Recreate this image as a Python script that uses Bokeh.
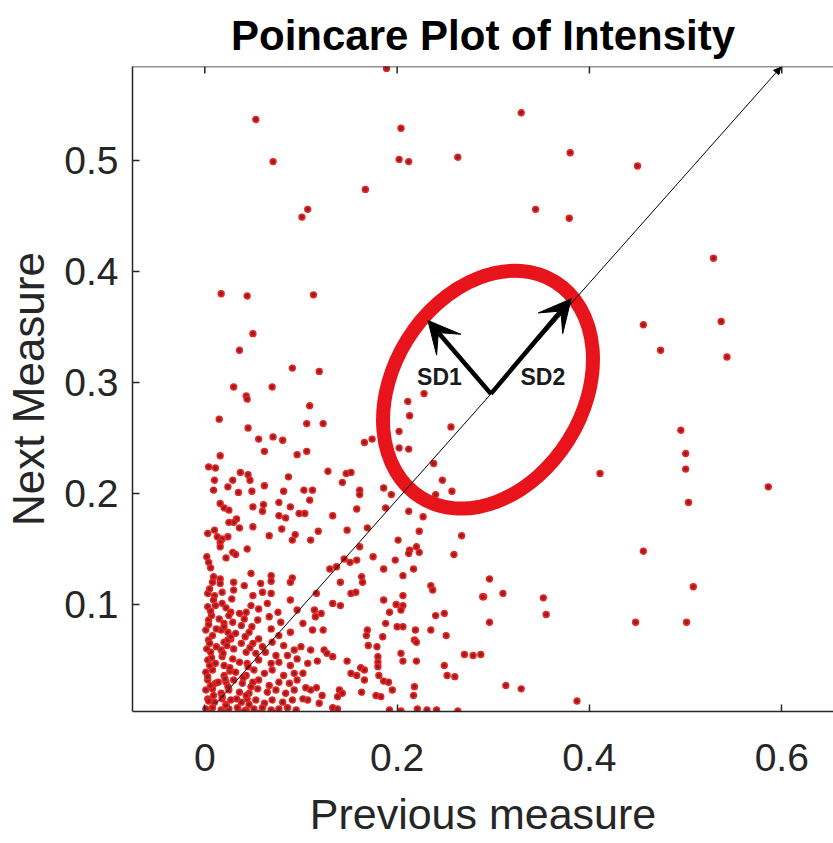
import math
from bokeh.plotting import figure
from bokeh.models import Range1d, FixedTicker, Arrow, VeeHead, NormalHead, Label, Span
from bokeh.embed import file_html
from bokeh.resources import INLINE

# ---------------- data ----------------
# sparse upper points
upper_x = [0.053, 0.071, 0.107, 0.101, 0.189, 0.204, 0.202, 0.212, 0.263, 0.329, 0.380, 0.344, 0.379, 0.167,
           0.450, 0.529, 0.456, 0.537, 0.474, 0.543, 0.495, 0.500]
upper_y = [0.537, 0.499, 0.456, 0.449, 0.583, 0.529, 0.501, 0.499, 0.503, 0.543, 0.507, 0.456, 0.448, 0.474,
           0.495, 0.412, 0.352, 0.355, 0.329, 0.323, 0.257, 0.236]
# sparse right-hand points
right_x = [0.411, 0.500, 0.503, 0.586, 0.456, 0.296, 0.290, 0.310, 0.352, 0.355, 0.296, 0.508, 0.448, 0.501,
           0.313, 0.329, 0.387]
right_y = [0.218, 0.222, 0.192, 0.206, 0.148, 0.123, 0.107, 0.110, 0.106, 0.091, 0.084, 0.116, 0.084, 0.084,
           0.027, 0.024, 0.013]
# middle-left points
mid_x = [0.017, 0.044, 0.113, 0.050, 0.036, 0.091, 0.119, 0.030, 0.070, 0.043, 0.044, 0.109, 0.015, 0.045,
         0.106, 0.123, 0.056, 0.071, 0.081, 0.106,
         0.228, 0.211, 0.213, 0.202, 0.256, 0.202, 0.212, 0.174, 0.166]
mid_y = [0.380, 0.378, 0.379, 0.344, 0.329, 0.313, 0.310, 0.296, 0.296, 0.288, 0.285, 0.279, 0.267, 0.259,
         0.263, 0.263, 0.249, 0.251, 0.248, 0.238,
         0.290, 0.283, 0.270, 0.256, 0.260, 0.241, 0.240, 0.249, 0.246]
# band 0.12-0.24, x 0-0.1
bandA_x = [0.016, 0.062, 0.096, 0.004, 0.011, 0.037, 0.045, 0.087, 0.010, 0.029, 0.047, 0.024, 0.062, 0.009,
           0.035, 0.049, 0.082, 0.016, 0.020, 0.025, 0.050, 0.061, 0.060, 0.077, 0.089, 0.098, 0.033, 0.030,
           0.025, 0.077, 0.084, 0.036, 0.050, 0.080, 0.003, 0.010, 0.013, 0.018, 0.024, 0.016, 0.067, 0.094,
           0.091, 0.016, 0.044, 0.029, 0.032, 0.022, 0.002, 0.004, 0.006, 0.048, 0.069, 0.091, 0.009, 0.016]
bandA_y = [0.234, 0.238, 0.235, 0.224, 0.223, 0.219, 0.217, 0.215, 0.212, 0.212, 0.212, 0.206, 0.207, 0.203,
           0.201, 0.202, 0.202, 0.191, 0.187, 0.185, 0.188, 0.190, 0.184, 0.192, 0.188, 0.182, 0.177, 0.174,
           0.174, 0.180, 0.178, 0.169, 0.170, 0.168, 0.164, 0.167, 0.161, 0.159, 0.161, 0.156, 0.162, 0.163,
           0.158, 0.152, 0.150, 0.147, 0.145, 0.142, 0.143, 0.138, 0.133, 0.128, 0.126, 0.124, 0.125, 0.123]
# band 0.12-0.24, x 0.1-0.27
bandB_x = [0.128, 0.147, 0.152, 0.143, 0.103, 0.112, 0.109, 0.161, 0.161, 0.186, 0.194, 0.238, 0.247, 0.257,
           0.240, 0.104, 0.133, 0.158, 0.188, 0.212, 0.227, 0.118, 0.148, 0.169, 0.223, 0.267, 0.110, 0.201,
           0.161, 0.220, 0.213, 0.223, 0.212, 0.259, 0.145, 0.151, 0.158, 0.175, 0.198, 0.130, 0.137, 0.186,
           0.217, 0.206, 0.163]
bandB_y = [0.220, 0.218, 0.219, 0.210, 0.203, 0.203, 0.194, 0.203, 0.199, 0.205, 0.199, 0.227, 0.212, 0.202,
           0.199, 0.182, 0.180, 0.186, 0.187, 0.184, 0.179, 0.166, 0.167, 0.169, 0.166, 0.162, 0.158, 0.158,
           0.152, 0.152, 0.149, 0.147, 0.146, 0.145, 0.141, 0.138, 0.140, 0.143, 0.140, 0.132, 0.134, 0.132,
           0.132, 0.126, 0.125]
# dense corner 0-0.1 x 0-0.12
denseA_x = [0.008, 0.016, 0.030, 0.041, 0.058, 0.069, 0.089,
            0.003, 0.010, 0.018, 0.030, 0.050, 0.060, 0.069, 0.089,
            0.003, 0.011, 0.018, 0.027, 0.036, 0.043, 0.048, 0.056, 0.065, 0.076, 0.096,
            0.004, 0.015, 0.020, 0.029, 0.041, 0.038, 0.055, 0.067, 0.079,
            0.001, 0.017, 0.024, 0.032, 0.046, 0.056, 0.069, 0.077, 0.089,
            0.004, 0.020, 0.027, 0.038, 0.050, 0.060, 0.070, 0.082, 0.093,
            0.006, 0.017, 0.030, 0.043, 0.053, 0.063, 0.074, 0.086, 0.096,
            0.003, 0.011, 0.020, 0.029, 0.036, 0.044, 0.056, 0.069, 0.077, 0.089,
            0.001, 0.008, 0.020, 0.032, 0.043, 0.051, 0.062, 0.070, 0.082, 0.093,
            0.003, 0.011, 0.022, 0.030, 0.039, 0.050, 0.056, 0.067, 0.077, 0.088, 0.096,
            0.001, 0.008, 0.017, 0.025, 0.036, 0.046, 0.055, 0.065, 0.074, 0.084, 0.093,
            0.003, 0.010, 0.018, 0.027, 0.038, 0.044, 0.053, 0.062, 0.070, 0.081, 0.091,
            0.001, 0.008, 0.017, 0.025, 0.034, 0.043, 0.051, 0.060, 0.069, 0.077, 0.086, 0.095,
            0.004, 0.020, 0.038, 0.055, 0.072,
            0.005, 0.012, 0.007, 0.014, 0.022, 0.009, 0.026, 0.018, 0.033, 0.012, 0.002, 0.024]
denseA_y = [0.120, 0.119, 0.120, 0.117, 0.119, 0.121, 0.120,
            0.110, 0.108, 0.111, 0.113, 0.108, 0.111, 0.110, 0.104,
            0.098, 0.099, 0.101, 0.093, 0.092, 0.093, 0.099, 0.096, 0.101, 0.093, 0.095,
            0.086, 0.087, 0.083, 0.084, 0.087, 0.081, 0.086, 0.089, 0.084,
            0.077, 0.077, 0.075, 0.074, 0.075, 0.069, 0.078, 0.072, 0.075,
            0.068, 0.066, 0.069, 0.065, 0.065, 0.062, 0.066, 0.063, 0.059,
            0.057, 0.059, 0.060, 0.057, 0.056, 0.057, 0.054, 0.054, 0.051,
            0.050, 0.047, 0.045, 0.051, 0.048, 0.047, 0.050, 0.047, 0.048, 0.045,
            0.039, 0.041, 0.036, 0.039, 0.036, 0.041, 0.038, 0.041, 0.036, 0.038,
            0.032, 0.029, 0.030, 0.032, 0.029, 0.030, 0.032, 0.027, 0.030, 0.029, 0.032,
            0.023, 0.024, 0.020, 0.023, 0.021, 0.020, 0.024, 0.021, 0.023, 0.020, 0.023,
            0.015, 0.012, 0.015, 0.014, 0.012, 0.015, 0.014, 0.011, 0.014, 0.012, 0.014,
            0.006, 0.007, 0.005, 0.006, 0.007, 0.005, 0.006, 0.007, 0.005, 0.006, 0.007, 0.005,
            0.002, 0.002, 0.002, 0.002, 0.002,
            0.045, 0.062, 0.090, 0.030, 0.010, 0.018, 0.040, 0.053, 0.015, 0.078, 0.060, 0.068]
# the most crowded strip along x = 0
corner_x = [0.004, 0.006, 0.003, 0.007, 0.005, 0.008, 0.004, 0.006, 0.009, 0.005,
            0.019, 0.022, 0.018, 0.024, 0.021, 0.026, 0.019, 0.023, 0.027, 0.020, 0.025, 0.022, 0.028,
            0.041, 0.046, 0.043, 0.048, 0.040, 0.045, 0.047, 0.042, 0.049]
corner_y = [0.013, 0.027, 0.035, 0.052, 0.065, 0.072, 0.082, 0.094, 0.104, 0.114,
            0.003, 0.009, 0.017, 0.026, 0.033, 0.043, 0.056, 0.063, 0.071, 0.080, 0.090, 0.097, 0.105,
            0.004, 0.010, 0.018, 0.026, 0.034, 0.044, 0.061, 0.071, 0.080]
# lower points x 0.1-0.29 y 0-0.12
denseB_x = [0.141, 0.164, 0.152, 0.157, 0.116, 0.133, 0.141, 0.186, 0.206, 0.199, 0.206, 0.204, 0.192, 0.235,
            0.237, 0.240, 0.249, 0.289, 0.114, 0.121, 0.115, 0.188, 0.200, 0.206, 0.219, 0.235, 0.251, 0.112,
            0.123, 0.169, 0.168, 0.185, 0.170, 0.179, 0.218, 0.220, 0.102, 0.100, 0.110, 0.124, 0.127, 0.133,
            0.117, 0.107, 0.102, 0.148, 0.180, 0.180, 0.180, 0.204, 0.206, 0.220, 0.249, 0.252, 0.260, 0.270,
            0.279, 0.287, 0.152, 0.158, 0.162, 0.166, 0.166, 0.181, 0.186, 0.191, 0.195, 0.218, 0.217, 0.178,
            0.183, 0.163, 0.140, 0.143, 0.138, 0.122, 0.119, 0.105, 0.110, 0.116, 0.107, 0.102, 0.133, 0.138,
            0.192, 0.204, 0.221, 0.231, 0.241, 0.263]
denseB_y = [0.120, 0.120, 0.110, 0.111, 0.110, 0.101, 0.099, 0.104, 0.108, 0.100, 0.099, 0.095, 0.093, 0.117,
            0.113, 0.090, 0.092, 0.107, 0.095, 0.092, 0.089, 0.083, 0.080, 0.080, 0.077, 0.077, 0.072, 0.077,
            0.077, 0.077, 0.072, 0.071, 0.063, 0.062, 0.068, 0.066, 0.083, 0.062, 0.059, 0.059, 0.056, 0.053,
            0.049, 0.047, 0.038, 0.049, 0.053, 0.048, 0.044, 0.056, 0.049, 0.049, 0.045, 0.036, 0.035, 0.055,
            0.054, 0.055, 0.038, 0.036, 0.043, 0.041, 0.032, 0.036, 0.031, 0.030, 0.023, 0.026, 0.018, 0.018,
            0.017, 0.021, 0.023, 0.020, 0.017, 0.018, 0.011, 0.025, 0.023, 0.025, 0.014, 0.015, 0.007, 0.006,
            0.005, 0.004, 0.006, 0.005, 0.005, 0.004]

# annotation geometry (data units)
identity_line = dict(x0=0.012, y0=0.011, x1=0.599, y1=0.584)
ellipse_center = (0.2945, 0.2935)
ellipse_size_px = (254, 190)   # major, minor (screen px)
ellipse_angle_deg = 58
sd_origin = (0.2975, 0.2898)
sd1_tip = (0.2320, 0.3559)
sd2_tip = (0.3810, 0.3754)
sd1_label = (0.2440, 0.3048)
sd2_label = (0.3515, 0.3048)

x_ticks = [0, 0.2, 0.4, 0.6]
y_ticks = [0.1, 0.2, 0.3, 0.4, 0.5]
x_lim = (-0.0752, 0.6538)
y_lim = (0.0036, 0.5847)

# ---------------- figure ----------------
FONT = "'Liberation Sans', Arial, sans-serif"
DARK = "#262626"

p = figure(width=833, height=843, output_backend="svg", toolbar_location=None,
           x_range=Range1d(*x_lim), y_range=Range1d(*y_lim),
           min_border_left=132, min_border_right=0, min_border_top=66, min_border_bottom=132,
           title="Poincare Plot of Intensity")
p.background_fill_color = "white"
p.border_fill_color = "white"
p.outline_line_color = None
p.grid.visible = False

p.title.align = "center"
p.title.text_font = FONT
p.title.text_font_style = "bold"
p.title.text_font_size = "42px"
p.title.text_color = "black"
p.title.offset = 6
p.title.standoff = 15

for ax, ticks in ((p.xaxis[0], x_ticks), (p.yaxis[0], y_ticks)):
    ax.ticker = FixedTicker(ticks=ticks)
    ax.major_tick_in = 7
    ax.major_tick_out = 0
    ax.minor_tick_line_color = None
    ax.axis_line_color = DARK
    ax.axis_line_width = 1.5
    ax.major_tick_line_color = DARK
    ax.major_tick_line_width = 1.5
    ax.major_label_text_color = DARK
    ax.axis_label_text_color = DARK
    ax.axis_label_text_font_style = "normal"
    ax.major_label_text_font = FONT
    ax.axis_label_text_font = FONT

p.xaxis[0].major_label_overrides = {0: "0"}
p.xaxis[0].major_label_text_font_size = "39px"
p.xaxis[0].major_label_standoff = 32
p.xaxis[0].axis_label = "Previous measure"
p.xaxis[0].axis_label_text_font_size = "43px"
p.xaxis[0].axis_label_standoff = 16

p.yaxis[0].major_label_text_font_size = "39px"
p.yaxis[0].major_label_standoff = 14
p.yaxis[0].axis_label = "Next Measure"
p.yaxis[0].axis_label_text_font_size = "44px"
p.yaxis[0].axis_label_standoff = 8

# top border of the box with inward ticks
p.add_layout(Span(location=y_lim[1], dimension="width", line_color=DARK, line_width=1.5))
tick_len = 0.0063
p.segment(x0=x_ticks, y0=[y_lim[1]] * len(x_ticks), x1=x_ticks, y1=[y_lim[1] - tick_len] * len(x_ticks),
          line_color=DARK, line_width=1.5)

# scatter points
all_x = upper_x + right_x + mid_x + bandA_x + bandB_x + denseA_x + corner_x + denseB_x
all_y = upper_y + right_y + mid_y + bandA_y + bandB_y + denseA_y + corner_y + denseB_y
p.scatter(all_x, all_y, size=5.8, fill_color="#961c2a", line_color="#e8261f", line_width=1.6)

# SD ellipse
p.ellipse(x=[ellipse_center[0]], y=[ellipse_center[1]], width=ellipse_size_px[0], height=ellipse_size_px[1],
          angle=math.radians(ellipse_angle_deg), width_units="screen", height_units="screen",
          fill_color=None, line_color="#e8141b", line_width=14)

# identity line with small head
p.add_layout(Arrow(end=NormalHead(size=7, fill_color="black", line_color="black", line_width=1),
                   x_start=identity_line["x0"], y_start=identity_line["y0"],
                   x_end=identity_line["x1"], y_end=identity_line["y1"],
                   line_color="black", line_width=1))

# SD1 / SD2 arrows
for tip in (sd1_tip, sd2_tip):
    p.add_layout(Arrow(end=VeeHead(size=32, fill_color="black", line_color="black", line_width=1),
                       x_start=sd_origin[0], y_start=sd_origin[1], x_end=tip[0], y_end=tip[1],
                       line_color="black", line_width=4.5))

for txt, pos in (("SD1", sd1_label), ("SD2", sd2_label)):
    p.add_layout(Label(x=pos[0], y=pos[1], text=txt, text_align="center", text_baseline="middle",
                       text_font=FONT, text_font_style="bold", text_font_size="23px",
                       text_color="#1a1a1a"))

open("out.html", "w").write(file_html(p, INLINE))
